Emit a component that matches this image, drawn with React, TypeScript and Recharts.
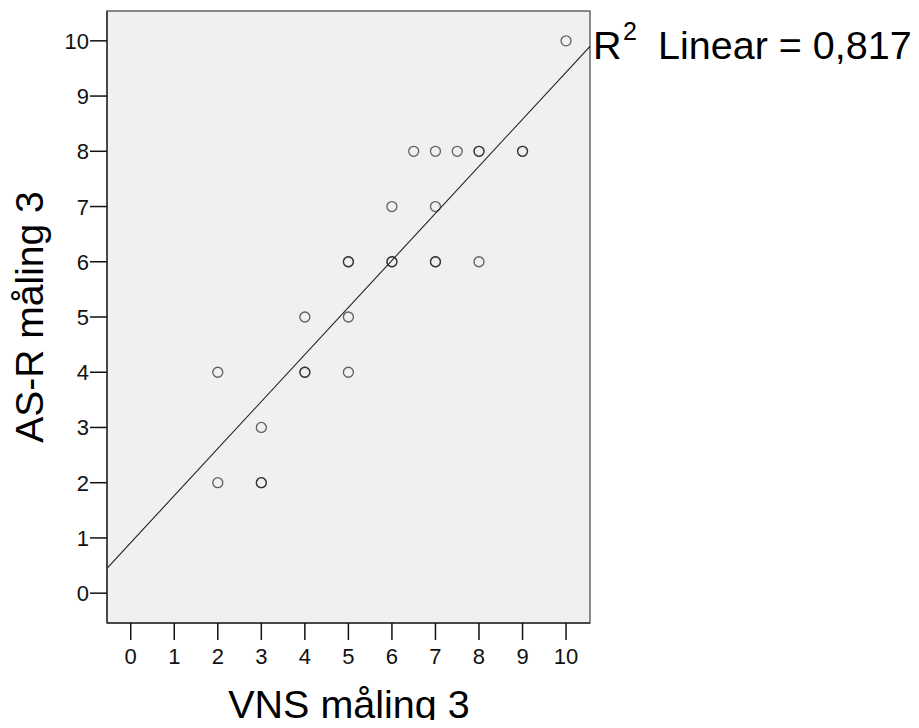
import { ScatterChart, Scatter, XAxis, YAxis, ReferenceArea, Customized } from 'recharts';

const vns = [2, 2, 3, 3, 3, 4, 4, 4, 5, 5, 5, 5, 6, 6, 6, 6.5, 7, 7.5, 8, 8, 9, 9, 7, 7, 7, 8, 10];
const asr = [4, 2, 3, 2, 2, 5, 4, 4, 6, 6, 5, 4, 7, 6, 6, 8, 8, 8, 8, 8, 8, 8, 7, 6, 6, 6, 10];

// ends of the fitted line
const fitX = [-0.545, 10.55];
const fitY = [0.45, 9.9];

const ticks = [0, 1, 2, 3, 4, 5, 6, 7, 8, 9, 10];
const xDomain = [-0.545, 10.55];
const yDomain = [-0.54, 10.54];
const r2Text = 'Linear = 0,817';

const points = vns.map((v, i) => ({ x: v, y: asr[i] }));
const fitLine = fitX.map((v, i) => ({ x: v, y: fitY[i] }));

const FONT = 'Arial, "Liberation Sans", sans-serif';

const Ring = (props: any) => (
  <circle
    cx={props.cx}
    cy={props.cy}
    r={5}
    fill="none"
    stroke="#222"
    strokeOpacity={0.7}
    strokeWidth={1.3}
  />
);

const XTick = ({ x, y, payload }: any) => (
  <text x={x} y={y} dy={15.5} textAnchor="middle" fontFamily={FONT} fontSize={22} fill="#111">
    {payload.value}
  </text>
);

const YTick = ({ x, y, payload }: any) => (
  <text x={x} y={y} dy={8} textAnchor="end" fontFamily={FONT} fontSize={22} fill="#111">
    {payload.value}
  </text>
);

const Texts = () => (
  <g fontFamily={FONT} fill="#000">
    <text x={341} y={710} textAnchor="middle" fontSize={39.5}>
      VNS måling 3
    </text>
    <text x={35} y={309} transform="rotate(-90 35 309)" textAnchor="middle" fontSize={39}>
      AS-R måling 3
    </text>
    <text y={51} fontSize={39.5}>
      <tspan x={585}>R</tspan>
      <tspan x={615} dy={-19} fontSize={25}>2</tspan>
      <tspan x={650} dy={19}>{r2Text}</tspan>
    </text>
  </g>
);

export default function App() {
  return (
    <div style={{ marginBottom: -8 }}>
      <ScatterChart
        width={903}
        height={720}
        margin={{ top: 3, right: 321, bottom: 8, left: 0 }}
      >
        <XAxis
          type="number"
          dataKey="x"
          domain={xDomain}
          ticks={ticks}
          allowDataOverflow
          height={97}
          tickSize={17}
          tickMargin={8}
          axisLine={{ stroke: '#333', strokeWidth: 1.5 }}
          tickLine={{ stroke: '#111', strokeWidth: 1.5 }}
          tick={<XTick />}
        />
        <YAxis
          type="number"
          dataKey="y"
          domain={yDomain}
          ticks={ticks}
          allowDataOverflow
          width={99}
          tickSize={17}
          tickMargin={1}
          axisLine={{ stroke: '#333', strokeWidth: 1.5 }}
          tickLine={{ stroke: '#111', strokeWidth: 1.5 }}
          tick={<YTick />}
        />
        <ReferenceArea
          x1={xDomain[0]}
          x2={xDomain[1]}
          y1={yDomain[0]}
          y2={yDomain[1]}
          fill="#f0f0f0"
          fillOpacity={1}
          stroke="#666"
          strokeWidth={1.5}
          ifOverflow="visible"
        />
        <Scatter
          data={fitLine}
          line={{ stroke: '#222', strokeWidth: 1.1 }}
          shape={() => <g />}
          isAnimationActive={false}
        />
        <Scatter data={points} shape={Ring} isAnimationActive={false} />
        <Customized component={Texts} />
      </ScatterChart>
    </div>
  );
}
